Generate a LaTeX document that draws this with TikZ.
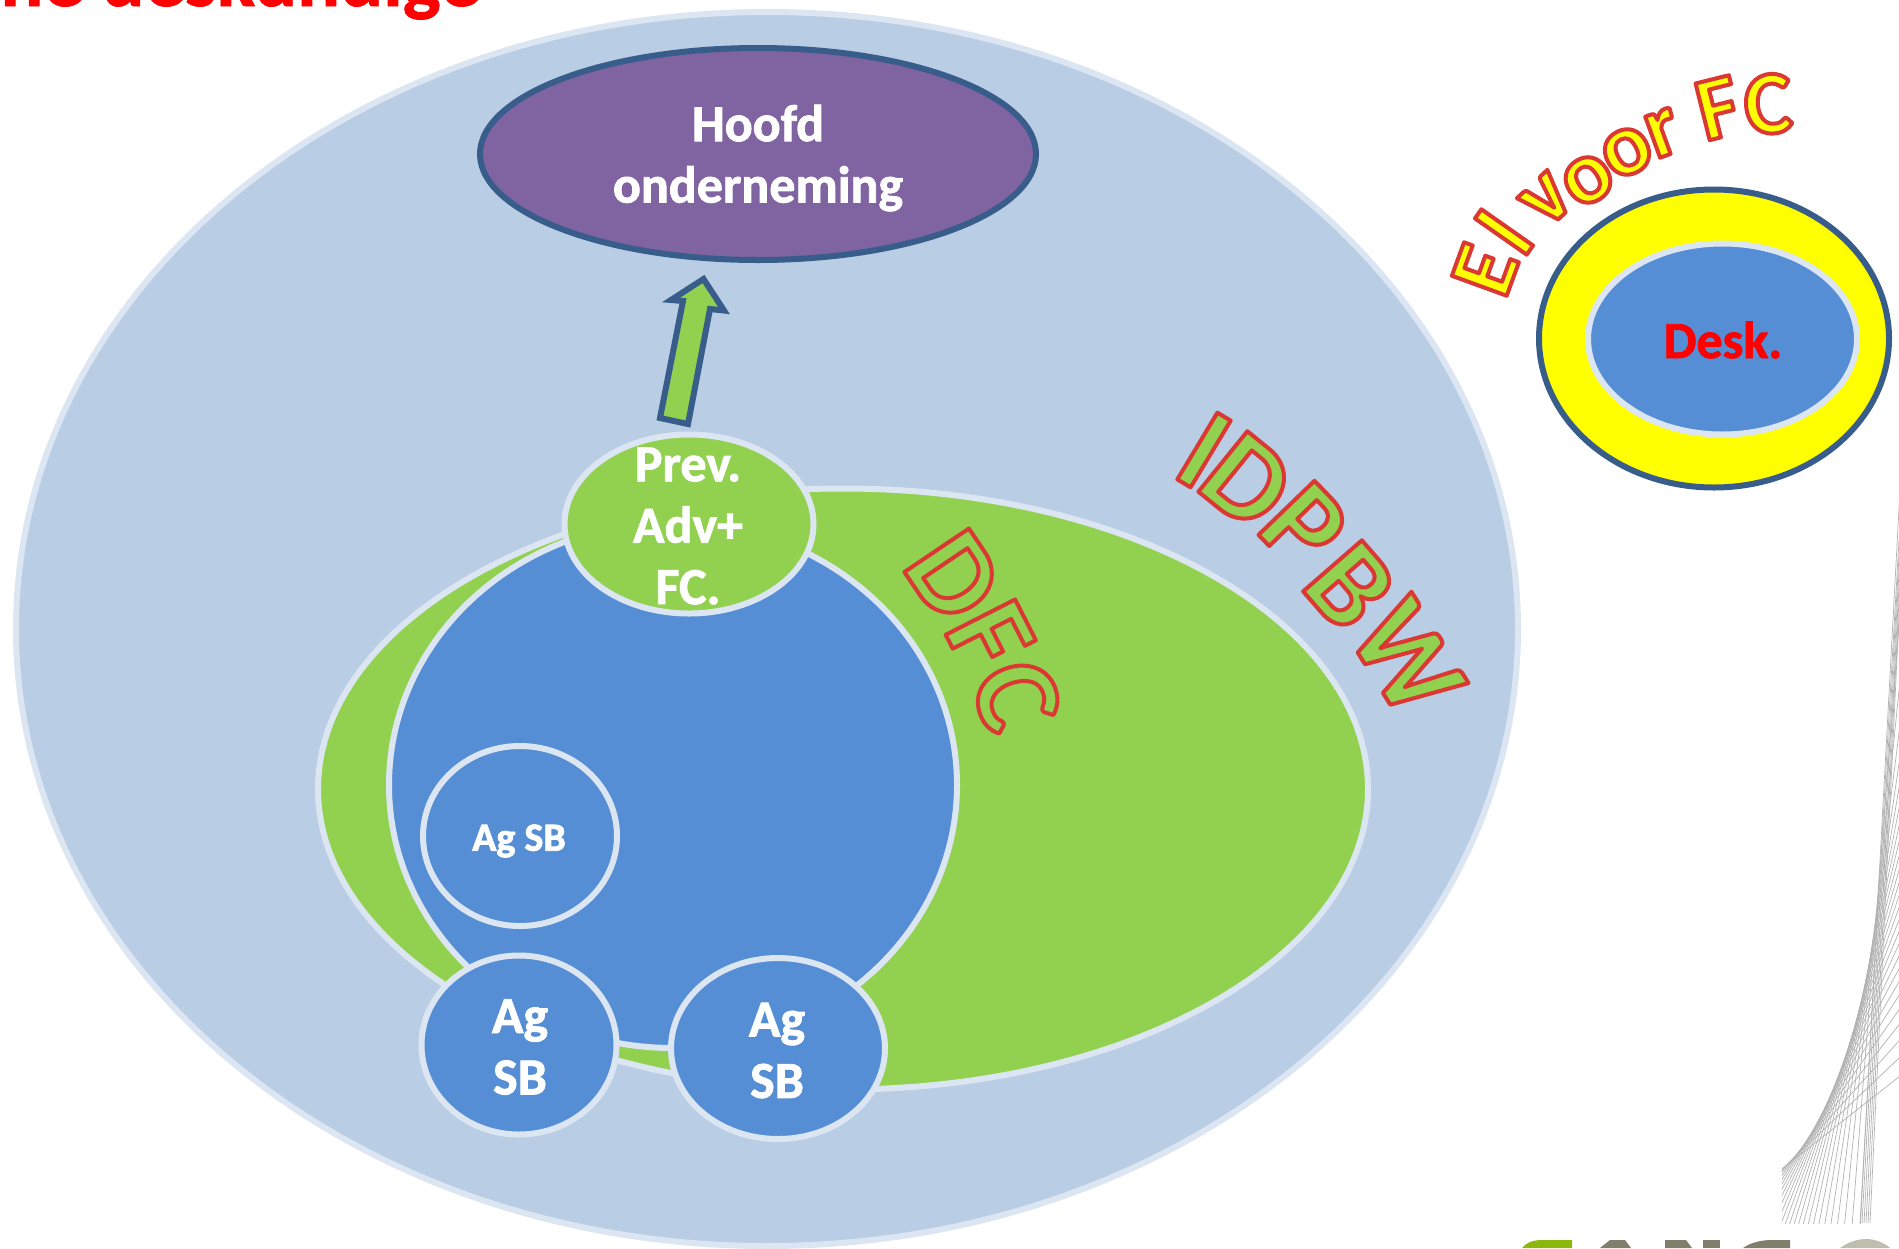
\documentclass[tikz,border=0pt]{standalone}
\usepackage{fontspec}
\setmainfont{Carlito}
\usetikzlibrary{shapes.geometric}
\definecolor{edgeL}{HTML}{DCE6F2}
\definecolor{outerB}{HTML}{B9CDE5}
\definecolor{midB}{HTML}{558ED5}
\definecolor{greenF}{HTML}{92D050}
\definecolor{purpF}{HTML}{8064A2}
\definecolor{darkB}{HTML}{385D8A}
\definecolor{yelF}{HTML}{FFFF00}
\definecolor{logoG}{HTML}{7F7F6C}
\definecolor{logoL}{HTML}{8DB60F}
\definecolor{logoS}{HTML}{BDBDB0}
\tikzset{
  ell/.style={ellipse,draw=edgeL,line width=3pt,inner sep=0pt,outer sep=0pt},
  ellD/.style={ellipse,draw=darkB,line width=3pt,inner sep=0pt,outer sep=0pt},
  lab/.style={font=\bfseries\fontsize{26}{30.7}\selectfont,text=white,align=center,inner sep=0pt},
  labS/.style={font=\bfseries\fontsize{20}{24}\selectfont,text=white,align=center,inner sep=0pt},
  letter/.style={inner sep=0pt,outer sep=0pt,anchor=center}
}
\newcommand{\ylw}{1 1 0 rg}
\newcommand{\grn}{0.573 0.816 0.314 rg}
\newcommand{\wb}[1]{\special{pdf:code 2 Tr 0.4 w 1 1 1 RG}#1\special{pdf:code 0 Tr}}
\newcommand{\rb}[1]{\special{pdf:code 2 Tr 0.4 w 1 0 0 RG}#1\special{pdf:code 0 Tr}}
% #1 name, #2 x, #3 y, #4 angle, #5 size pt, #6 fill op, #7 letter
\newcommand{\ltr}[7]{\node[letter,rotate=#4] (#1) at (#2,#3) {\fontsize{#5}{#5}\selectfont\bfseries\special{pdf:code 2 Tr 2 w 1 j 0.86 0.22 0.2 RG #6}#7\special{pdf:code 0 Tr}};}
\begin{document}
\begin{tikzpicture}[x=0.5pt,y=-0.5pt]
\useasboundingbox (0,0) rectangle (1899,1248);
% title fragment
\node[anchor=base west,inner sep=0pt,text=red,font=\bfseries\fontsize{40}{40}\selectfont] (title) at (0,6) {\rb{ne deskundige}};
% main ellipses
\node[ell,fill=outerB,minimum width=751pt,minimum height=617pt] (big) at (767,629) {};
\node[ellD,fill=purpF,minimum width=278pt,minimum height=106pt] (hoofd) at (758,154) {};
\node[lab] (hoofdT) at (758,158) {\wb{Hoofd\\onderneming}};
\node[ell,fill=greenF,minimum width=525pt,minimum height=300.5pt] (dfcE) at (843,789) {};
\node[ell,fill=midB,minimum width=284pt,minimum height=263pt] (blue) at (673,785) {};
\node[ell,fill=greenF,minimum width=124.5pt,minimum height=89.5pt] (prev) at (689,524) {};
\node[lab] (prevT) at (688,526) {\wb{Prev.\\Adv+\\FC.}};
\node[ell,fill=midB,minimum width=97pt,minimum height=90pt] (ag1) at (520,836) {};
\node[labS] (ag1T) at (519,841) {\wb{Ag SB}};
\node[ell,fill=midB,minimum width=97.5pt,minimum height=89.5pt] (ag2) at (519,1045) {};
\node[lab] (ag2T) at (520,1047) {\wb{Ag\\SB}};
\node[ell,fill=midB,minimum width=107pt,minimum height=90.5pt] (ag3) at (778,1048.5) {};
\node[lab] (ag3T) at (777,1050.5) {\wb{Ag\\SB}};
% block arrow
\draw[fill=greenF,draw=darkB,line width=3pt,miter limit=10]
  (703.5,279) -- (724,310.5) -- (710,309) -- (688,424) -- (660,418) -- (683,301) -- (671,300) -- cycle;
% Desk
\node[ellD,fill=yelF,minimum width=175pt,minimum height=149pt] (deskO) at (1714,338.5) {};
\node[ell,fill=midB,minimum width=134.5pt,minimum height=95.5pt] (deskI) at (1722.5,339) {};
\node[lab,text=red] (deskT) at (1723,340) {\rb{Desk.}};
% El voor FC
\ltr{a1}{1485}{270}{70}{45}{\ylw}{E}
\ltr{a2}{1504}{232}{55}{45}{\ylw}{l}
\ltr{a3}{1547}{200}{43}{45}{\ylw}{v}
\ltr{a4}{1588}{180}{33}{45}{\ylw}{o}
\ltr{a5}{1627}{152}{27}{45}{\ylw}{o}
\ltr{a6}{1663}{133}{20}{45}{\ylw}{r}
\ltr{a7}{1718}{108}{14}{45}{\ylw}{F}
\ltr{a8}{1768}{104}{4}{45}{\ylw}{C}
% IDPBW
\ltr{b1}{1204}{450}{-31}{60}{\grn}{I}
\ltr{b2}{1247}{481}{-39}{60}{\grn}{D}
\ltr{b3}{1304}{526}{-46}{60}{\grn}{P}
\ltr{b4}{1350}{586}{-49}{60}{\grn}{B}
\ltr{b5}{1407}{658}{-58}{60}{\grn}{W}
% DFC
\ltr{c1}{954}{576}{-56}{60}{\grn}{D}
\ltr{c2}{990}{636}{-63}{60}{\grn}{F}
\ltr{c3}{1016}{696}{-72}{60}{\grn}{C}
% line art
\begin{scope}
\clip (1782,500) rectangle (1899,1223);
\foreach \tt in {0,0.04,...,1.001}{
  \pgfmathsetmacro{\uu}{1-\tt}
  \pgfmathsetmacro{\pxx}{\uu*\uu*\uu*1783+3*\uu*\uu*\tt*1825+3*\uu*\tt*\tt*1872+\tt*\tt*\tt*1879}
  \pgfmathsetmacro{\pyy}{\uu*\uu*\uu*1168+3*\uu*\uu*\tt*1135+3*\uu*\tt*\tt*1010+\tt*\tt*\tt*880}
  \pgfmathsetmacro{\dxx}{3*\uu*\uu*(1825-1783)+6*\uu*\tt*(1872-1825)+3*\tt*\tt*(1879-1872)}
  \pgfmathsetmacro{\dyy}{3*\uu*\uu*(1135-1168)+6*\uu*\tt*(1010-1135)+3*\tt*\tt*(880-1010)}
  \pgfmathsetmacro{\dll}{veclen(\dxx,\dyy)}
  \pgfmathsetmacro{\nxx}{\dxx/\dll}
  \pgfmathsetmacro{\nyy}{\dyy/\dll}
  \pgfmathsetmacro{\axx}{\pxx-400*\nxx}
  \pgfmathsetmacro{\ayy}{\pyy-400*\nyy}
  \pgfmathsetmacro{\bxx}{\pxx+400*\nxx}
  \pgfmathsetmacro{\byy}{\pyy+400*\nyy}
  \draw[gray!60,line width=0.35pt] (\axx,\ayy) -- (\bxx,\byy);
}
\foreach \i in {0,...,5}{
  \draw[gray!60,line width=0.35pt] ({1860+\i*2},1223) -- (1899,{540+\i*15});
}
\end{scope}
% logo fragment
\fill[logoL] (1522,1248) .. controls (1526,1243) and (1532,1240) .. (1542,1240) -- (1572,1240) -- (1572,1248) -- cycle;
\fill[logoG] (1600,1248) -- (1610,1240) -- (1625,1240) -- (1631,1248) -- cycle;
\fill[logoG] (1665,1240) -- (1686,1240) -- (1692,1248) -- (1665,1248) -- cycle;
\fill[logoG] (1703,1240) -- (1720,1240) -- (1720,1248) -- (1703,1248) -- cycle;
\fill[logoG] (1743,1248) .. controls (1750,1243) and (1760,1240) .. (1772,1240) -- (1790,1240) -- (1790,1248) -- cycle;
\fill[logoS] (1840,1248) .. controls (1848,1242) and (1858,1239) .. (1866,1239) .. controls (1875,1239) and (1885,1243) .. (1890,1248) -- cycle;
\end{tikzpicture}
\end{document}
